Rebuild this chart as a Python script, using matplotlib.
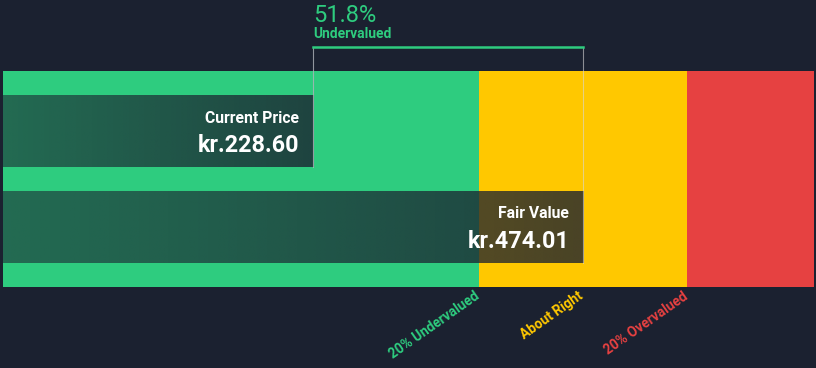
import numpy as np
import matplotlib.pyplot as plt

# values
currency = "kr."
current_price = 228.60
fair_value = 474.01
discount_pct = 51.8
zone_labels = ["20% Undervalued", "About Right", "20% Overvalued"]
zone_colors = ["#2ecc7f", "#ffc800", "#e64141"]
zone_text_colors = ["#2ecc7f", "#ffc800", "#e64141"]

BG = "#1b2130"
plt.rcParams['font.family'] = ['Roboto', 'DejaVu Sans']


def draw_chart():
    fig = plt.figure(figsize=(8.16, 3.68), dpi=100, facecolor=BG)
    ax = fig.add_axes([0, 0, 1, 1])
    ax.set_facecolor(BG)

    # horizontal scale: value -> pixel roughly x = 61.5 + 1.1 * v
    k = 1.1002
    x0 = 61.5
    xmin, xmax = -x0 / k, (816 - x0) / k
    ax.set_xlim(xmin, xmax)
    ax.set_ylim(368, 0)
    ax.axis('off')

    band_left = xmin + 3 / k
    band_right = xmax - 2 / k
    edges = [band_left, 0.8 * fair_value, 1.2 * fair_value, band_right]
    for i in range(3):
        ax.barh(179, edges[i + 1] - edges[i], left=edges[i], height=216,
                color=zone_colors[i], zorder=1)

    # dark gradient bars
    grad = np.linspace(0.57, 0.8, 256)
    rgba = np.zeros((1, 256, 4))
    rgba[..., :3] = np.array([27, 33, 48]) / 255
    rgba[..., 3] = grad
    for val, ytop in [(current_price, 95), (fair_value, 191)]:
        ax.imshow(rgba, extent=[band_left, val, ytop + 72, ytop], aspect='auto',
                  interpolation='bilinear', zorder=2)

    # bracket lines
    ax.plot([current_price, current_price], [47, 167], color="#b0b4bb", lw=0.8,
            alpha=0.8, zorder=3)
    ax.plot([fair_value, fair_value], [47, 263], color="#d8d8d8", lw=0.8,
            alpha=0.6, zorder=3)
    ax.plot([current_price, fair_value], [47, 47], color="#2ecc7f", lw=1.8, zorder=4)

    ax.text(current_price, 22, f"{discount_pct}%", color="#2ecc7f", fontsize=17,
            ha='left', va='baseline', zorder=5)
    ax.text(current_price, 38, "Undervalued", color="#2ecc7f", fontsize=10,
            fontweight='bold', ha='left', va='baseline', zorder=5)

    pad = 14 / k
    ax.text(current_price - pad, 123, "Current Price", color="white", fontsize=11.3,
            fontweight='bold', ha='right', va='baseline', zorder=5)
    ax.text(current_price - pad, 152, f"{currency}{current_price:.2f}", color="white",
            fontsize=16.8, fontweight='bold', ha='right', va='baseline', zorder=5)
    ax.text(fair_value - pad, 218, "Fair Value", color="white", fontsize=11.3,
            fontweight='bold', ha='right', va='baseline', zorder=5)
    ax.text(fair_value - pad, 248, f"{currency}{fair_value:.2f}", color="white",
            fontsize=16.8, fontweight='bold', ha='right', va='baseline', zorder=5)

    # rotated zone labels, ending near each zone boundary
    label_ends = [0.8 * fair_value, fair_value, 1.2 * fair_value]
    for i in range(3):
        ax.text(label_ends[i] - 5 / k, 289, zone_labels[i], color=zone_text_colors[i],
                fontsize=9.8, fontweight='bold', rotation=35, rotation_mode='anchor',
                ha='right', va='top', zorder=5)

    fig.savefig('out.png', dpi=100, facecolor=BG)


if __name__ == "__main__":
    draw_chart()
